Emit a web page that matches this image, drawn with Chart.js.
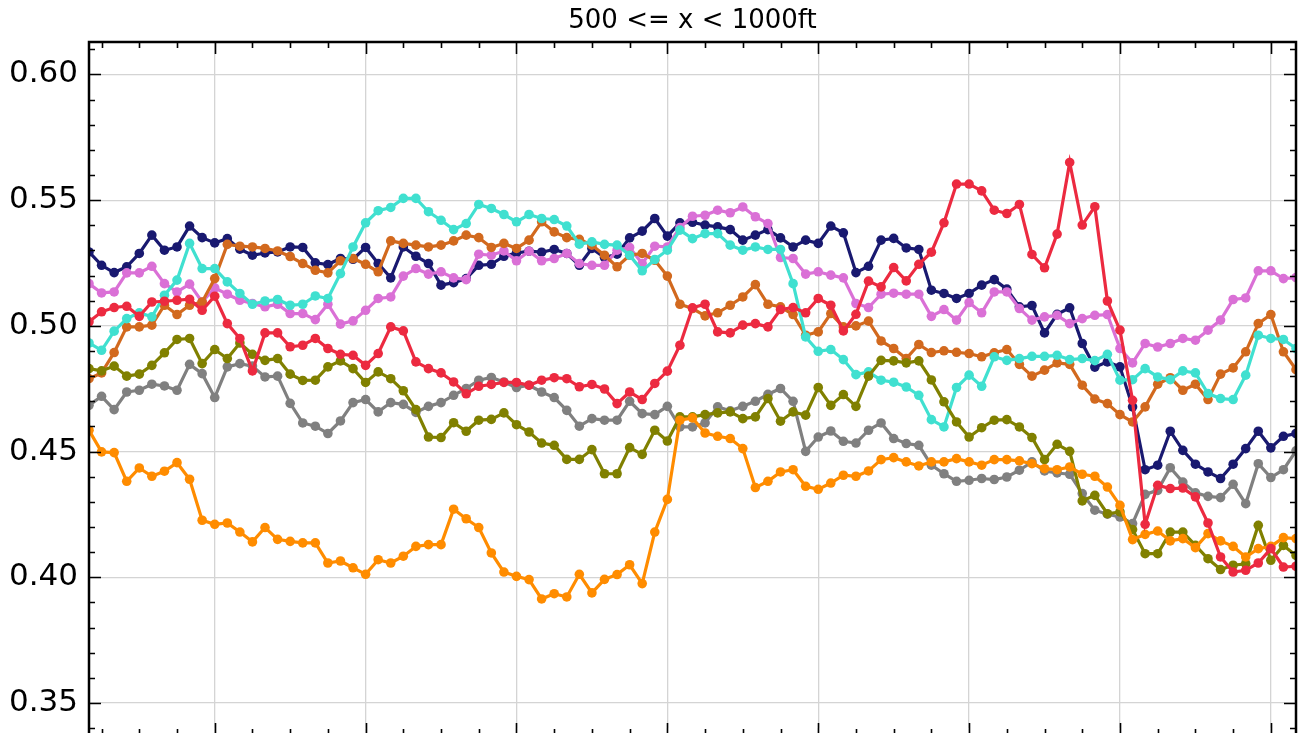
<!DOCTYPE html>
<html>
<head>
<meta charset="utf-8">
<script src="https://cdn.jsdelivr.net/npm/chart.js@4.4.1/dist/chart.umd.min.js"></script>
<style>
  html, body { margin: 0; padding: 0; background: #fff; }
  #wrap { width: 1304px; height: 733px; }
</style>
</head>
<body>
<div id="wrap"><canvas id="chart" width="1304" height="733"></canvas></div>
<script>
// ── DATA ─────────────────────────────────────────────
const titleText = '500 <= x < 1000ft';
const xIdx = Array.from({ length: 97 }, (_, i) => i);
const xMajor = [10, 22, 34, 46, 58, 70, 82, 94];
const yTicks = [0.35, 0.40, 0.45, 0.50, 0.55, 0.60];

const navy = [0.5294,0.5241,0.5212,0.5235,0.5288,0.5361,0.5301,0.5314,0.5397,0.5351,
  0.5330,0.5347,0.5305,0.5281,0.5290,0.5294,0.5314,0.5312,0.5251,0.5244,
  0.5268,0.5265,0.5312,0.5248,0.5191,0.5314,0.5277,0.5248,0.5162,0.5172,
  0.5188,0.5241,0.5245,0.5277,0.5290,0.5297,0.5293,0.5304,0.5288,0.5241,
  0.5308,0.5272,0.5285,0.5350,0.5377,0.5427,0.5357,0.5410,0.5412,0.5401,
  0.5394,0.5383,0.5341,0.5361,0.5383,0.5350,0.5314,0.5341,0.5328,0.5397,
  0.5370,0.5212,0.5237,0.5341,0.5348,0.5310,0.5304,0.5142,0.5129,0.5109,
  0.5129,0.5162,0.5184,0.5146,0.5076,0.5081,0.4972,0.5046,0.5072,0.4930,
  0.4836,0.4857,0.4837,0.4678,0.4428,0.4446,0.4581,0.4505,0.4450,0.4419,
  0.4393,0.4450,0.4512,0.4581,0.4515,0.4561,0.4572];

const turquoise = [0.4932,0.4903,0.4979,0.5029,0.5052,0.5036,0.5122,0.5182,0.5328,0.5228,
  0.5228,0.5175,0.5129,0.5086,0.5099,0.5105,0.5082,0.5086,0.5119,0.5109,
  0.5208,0.5314,0.5410,0.5458,0.5471,0.5507,0.5507,0.5454,0.5420,0.5383,
  0.5407,0.5483,0.5467,0.5443,0.5414,0.5443,0.5427,0.5423,0.5397,0.5325,
  0.5334,0.5324,0.5321,0.5281,0.5219,0.5264,0.5301,0.5381,0.5347,0.5367,
  0.5367,0.5321,0.5301,0.5314,0.5304,0.5304,0.5168,0.4956,0.4899,0.4906,
  0.4866,0.4806,0.4817,0.4784,0.4776,0.4757,0.4724,0.4627,0.4598,0.4755,
  0.4804,0.4760,0.4877,0.4863,0.4870,0.4879,0.4879,0.4883,0.4866,0.4870,
  0.4862,0.4887,0.4784,0.4786,0.4830,0.4797,0.4786,0.4821,0.4813,0.4731,
  0.4711,0.4707,0.4804,0.4963,0.4950,0.4946,0.4910];

const chocolate = [0.4790,0.4813,0.4894,0.4996,0.4996,0.5003,0.5082,0.5045,0.5082,0.5095,
  0.5188,0.5324,0.5317,0.5314,0.5308,0.5298,0.5276,0.5248,0.5221,0.5211,
  0.5259,0.5268,0.5245,0.5215,0.5338,0.5328,0.5321,0.5314,0.5321,0.5338,
  0.5361,0.5351,0.5312,0.5328,0.5308,0.5341,0.5414,0.5374,0.5351,0.5344,
  0.5321,0.5281,0.5235,0.5281,0.5288,0.5261,0.5198,0.5086,0.5069,0.5040,
  0.5052,0.5082,0.5115,0.5164,0.5086,0.5076,0.5045,0.4963,0.4976,0.5049,
  0.4996,0.5000,0.5019,0.4940,0.4910,0.4870,0.4926,0.4894,0.4901,0.4895,
  0.4890,0.4877,0.4893,0.4906,0.4847,0.4800,0.4824,0.4853,0.4847,0.4764,
  0.4709,0.4691,0.4647,0.4618,0.4678,0.4768,0.4794,0.4744,0.4768,0.4707,
  0.4808,0.4833,0.4897,0.5009,0.5045,0.4897,0.4826];

const orchid = [0.5168,0.5131,0.5135,0.5211,0.5211,0.5237,0.5168,0.5135,0.5166,0.5095,
  0.5151,0.5126,0.5102,0.5089,0.5076,0.5086,0.5049,0.5049,0.5025,0.5086,
  0.5007,0.5020,0.5062,0.5109,0.5115,0.5198,0.5228,0.5206,0.5215,0.5191,
  0.5184,0.5285,0.5281,0.5298,0.5259,0.5297,0.5259,0.5268,0.5288,0.5248,
  0.5241,0.5241,0.5301,0.5312,0.5248,0.5317,0.5314,0.5391,0.5436,0.5440,
  0.5460,0.5450,0.5473,0.5434,0.5407,0.5272,0.5268,0.5206,0.5215,0.5202,
  0.5191,0.5089,0.5073,0.5126,0.5130,0.5126,0.5126,0.5038,0.5065,0.5023,
  0.5093,0.5052,0.5135,0.5135,0.5069,0.5023,0.5036,0.5042,0.5009,0.5029,
  0.5042,0.5045,0.4910,0.4853,0.4930,0.4916,0.4930,0.4950,0.4943,0.4983,
  0.5023,0.5105,0.5111,0.5219,0.5219,0.5188,0.5192];

const red = [0.5016,0.5056,0.5073,0.5078,0.5038,0.5095,0.5098,0.5102,0.5106,0.5062,
  0.5118,0.5009,0.4950,0.4821,0.4972,0.4972,0.4917,0.4923,0.4950,0.4910,
  0.4887,0.4883,0.4843,0.4890,0.4996,0.4980,0.4857,0.4830,0.4813,0.4777,
  0.4730,0.4760,0.4767,0.4775,0.4775,0.4764,0.4784,0.4794,0.4790,0.4758,
  0.4767,0.4749,0.4691,0.4737,0.4707,0.4771,0.4820,0.4923,0.5072,0.5086,
  0.4976,0.4972,0.5003,0.5009,0.4996,0.5065,0.5073,0.5052,0.5109,0.5082,
  0.4980,0.5046,0.5178,0.5155,0.5232,0.5179,0.5245,0.5293,0.5410,0.5564,
  0.5564,0.5537,0.5460,0.5447,0.5483,0.5284,0.5231,0.5365,0.5650,0.5401,
  0.5474,0.5099,0.4983,0.4704,0.4211,0.4366,0.4353,0.4355,0.4320,0.4216,
  0.4081,0.4021,0.4028,0.4057,0.4114,0.4041,0.4044];

const olive = [0.4830,0.4821,0.4840,0.4800,0.4808,0.4843,0.4893,0.4946,0.4950,0.4850,
  0.4906,0.4870,0.4932,0.4887,0.4863,0.4870,0.4808,0.4783,0.4784,0.4837,
  0.4861,0.4830,0.4775,0.4817,0.4790,0.4742,0.4667,0.4558,0.4556,0.4615,
  0.4581,0.4625,0.4628,0.4654,0.4607,0.4578,0.4534,0.4525,0.4469,0.4469,
  0.4508,0.4412,0.4412,0.4516,0.4489,0.4585,0.4542,0.4638,0.4638,0.4647,
  0.4654,0.4658,0.4631,0.4638,0.4711,0.4621,0.4658,0.4645,0.4755,0.4684,
  0.4727,0.4680,0.4800,0.4863,0.4861,0.4853,0.4861,0.4785,0.4698,0.4618,
  0.4558,0.4595,0.4625,0.4627,0.4598,0.4556,0.4468,0.4529,0.4501,0.4304,
  0.4326,0.4253,0.4260,0.4190,0.4094,0.4094,0.4180,0.4180,0.4127,0.4074,
  0.4031,0.4048,0.4054,0.4207,0.4068,0.4127,0.4087];

const gray = [0.4684,0.4720,0.4667,0.4737,0.4744,0.4768,0.4761,0.4744,0.4847,0.4810,
  0.4715,0.4837,0.4850,0.4840,0.4797,0.4800,0.4692,0.4614,0.4601,0.4572,
  0.4622,0.4695,0.4707,0.4658,0.4695,0.4688,0.4656,0.4680,0.4695,0.4724,
  0.4751,0.4784,0.4795,0.4777,0.4755,0.4764,0.4737,0.4715,0.4664,0.4601,
  0.4631,0.4625,0.4625,0.4700,0.4651,0.4647,0.4680,0.4598,0.4598,0.4614,
  0.4678,0.4662,0.4680,0.4700,0.4728,0.4751,0.4700,0.4501,0.4558,0.4582,
  0.4541,0.4534,0.4585,0.4614,0.4552,0.4532,0.4525,0.4446,0.4412,0.4382,
  0.4386,0.4393,0.4389,0.4399,0.4426,0.4459,0.4423,0.4415,0.4410,0.4333,
  0.4267,0.4251,0.4240,0.4214,0.4330,0.4346,0.4436,0.4379,0.4336,0.4322,
  0.4317,0.4370,0.4293,0.4452,0.4397,0.4428,0.4503];

const orange = [0.4585,0.4499,0.4496,0.4382,0.4435,0.4402,0.4422,0.4456,0.4390,0.4227,
  0.4211,0.4216,0.4180,0.4141,0.4198,0.4151,0.4143,0.4137,0.4137,0.4057,
  0.4065,0.4038,0.4012,0.4070,0.4057,0.4084,0.4123,0.4130,0.4130,0.4271,
  0.4233,0.4198,0.4097,0.4021,0.4004,0.3991,0.3914,0.3935,0.3922,0.4012,
  0.3938,0.3992,0.4011,0.4050,0.3975,0.4180,0.4310,0.4625,0.4634,0.4574,
  0.4561,0.4552,0.4512,0.4357,0.4382,0.4419,0.4428,0.4362,0.4350,0.4375,
  0.4406,0.4402,0.4423,0.4468,0.4476,0.4459,0.4443,0.4459,0.4459,0.4472,
  0.4459,0.4446,0.4468,0.4468,0.4463,0.4452,0.4432,0.4428,0.4439,0.4410,
  0.4402,0.4359,0.4286,0.4150,0.4171,0.4184,0.4145,0.4154,0.4118,0.4174,
  0.4145,0.4123,0.4081,0.4114,0.4123,0.4158,0.4154];

// series, bottom to top
const series = [
  { data: navy,      color: '#191970' },
  { data: orchid,    color: '#da70d6' },
  { data: chocolate, color: '#d2691e' },
  { data: turquoise, color: '#40e0d0' },
  { data: gray,      color: '#808080' },
  { data: olive,     color: '#808000' },
  { data: orange,    color: '#ff8c00' },
  { data: red,       color: '#ec2a40' },
];

const gridColor = '#d4d4d4';

// ── FRAME, TICKS, TITLE ──────────────────────────────
const framePlugin = {
  id: 'frame',
  beforeDatasetsDraw(chart) {
    // vertical grid runs on to the edge of the picture
    const { ctx, chartArea: a, scales: { x } } = chart;
    ctx.save();
    ctx.strokeStyle = gridColor;
    ctx.lineWidth = 1.3;
    ctx.beginPath();
    xMajor.forEach(v => {
      const px = x.getPixelForValue(v);
      ctx.moveTo(px, a.bottom); ctx.lineTo(px, chart.height);
    });
    ctx.stroke();
    ctx.restore();
  },
  afterDraw(chart) {
    const { ctx, chartArea: a, scales: { x, y } } = chart;
    const bottom = chart.height + 2;   // the lower spine sits just below the picture
    ctx.save();
    ctx.strokeStyle = '#000';
    ctx.lineWidth = 1.6;
    ctx.beginPath();
    for (let k = 34; k <= 61; k++) {
      const py = Math.round(y.getPixelForValue(k / 100)) + 0.5;
      if (py > bottom - 4) continue;
      const len = k % 5 === 0 ? 12 : 6;
      ctx.moveTo(a.left, py); ctx.lineTo(a.left + len, py);
      ctx.moveTo(a.right, py); ctx.lineTo(a.right - len, py);
    }
    for (let i = 1; i < 96; i++) {
      const major = xMajor.includes(i);
      if (!major && (i - 10) % 3 !== 0) continue;
      const px = Math.round(x.getPixelForValue(i)) + 0.5;
      const len = major ? 12 : 6;
      ctx.moveTo(px, a.top); ctx.lineTo(px, a.top + len);
      ctx.moveTo(px, bottom); ctx.lineTo(px, bottom - len);
    }
    ctx.stroke();
    ctx.lineWidth = 2.5;
    ctx.strokeRect(a.left, a.top, a.right - a.left, bottom - a.top);
    ctx.fillStyle = '#000';
    ctx.font = '26px "DejaVu Sans"';
    ctx.textAlign = 'center';
    ctx.textBaseline = 'middle';
    ctx.fillText(titleText, (a.left + a.right) / 2, 21);
    ctx.restore();
  }
};

// ── CHART ────────────────────────────────────────────
new Chart(document.getElementById('chart').getContext('2d'), {
  type: 'line',
  data: {
    datasets: series.map((s, k) => ({
      data: s.data.map((v, i) => ({ x: xIdx[i], y: v })),
      borderColor: s.color,
      backgroundColor: s.color,
      pointBackgroundColor: s.color,
      pointBorderColor: s.color,
      pointBorderWidth: 0,
      pointRadius: 4.8,
      borderWidth: 3.2,
      tension: 0,
      order: series.length - k,
    }))
  },
  options: {
    responsive: false,
    animation: false,
    devicePixelRatio: 1,
    layout: { padding: { top: 42, right: 8, left: 0, bottom: 0 } },
    plugins: { legend: { display: false }, tooltip: { enabled: false }, title: { display: false } },
    scales: {
      x: {
        type: 'linear', min: 0, max: 96,
        afterBuildTicks: s => { s.ticks = xMajor.map(v => ({ value: v })); },
        afterFit: s => { s.height = 0; s.paddingLeft = 0; s.paddingRight = 0; },
        ticks: { display: false },
        grid: { color: gridColor, lineWidth: 1.3, drawTicks: false },
        border: { display: false },
      },
      y: {
        min: 0.3400, max: 0.6129,
        afterBuildTicks: s => { s.ticks = yTicks.map(v => ({ value: v })); },
        afterFit: s => { s.width = 89; s.paddingTop = 0; s.paddingBottom = 0; },
        ticks: {
          padding: 11, color: '#000',
          font: { family: 'DejaVu Sans', size: 31 },
          callback: v => v.toFixed(2),
        },
        grid: { color: gridColor, lineWidth: 1.3, drawTicks: false },
        border: { display: false },
      }
    }
  },
  plugins: [framePlugin]
});
</script>
</body>
</html>
